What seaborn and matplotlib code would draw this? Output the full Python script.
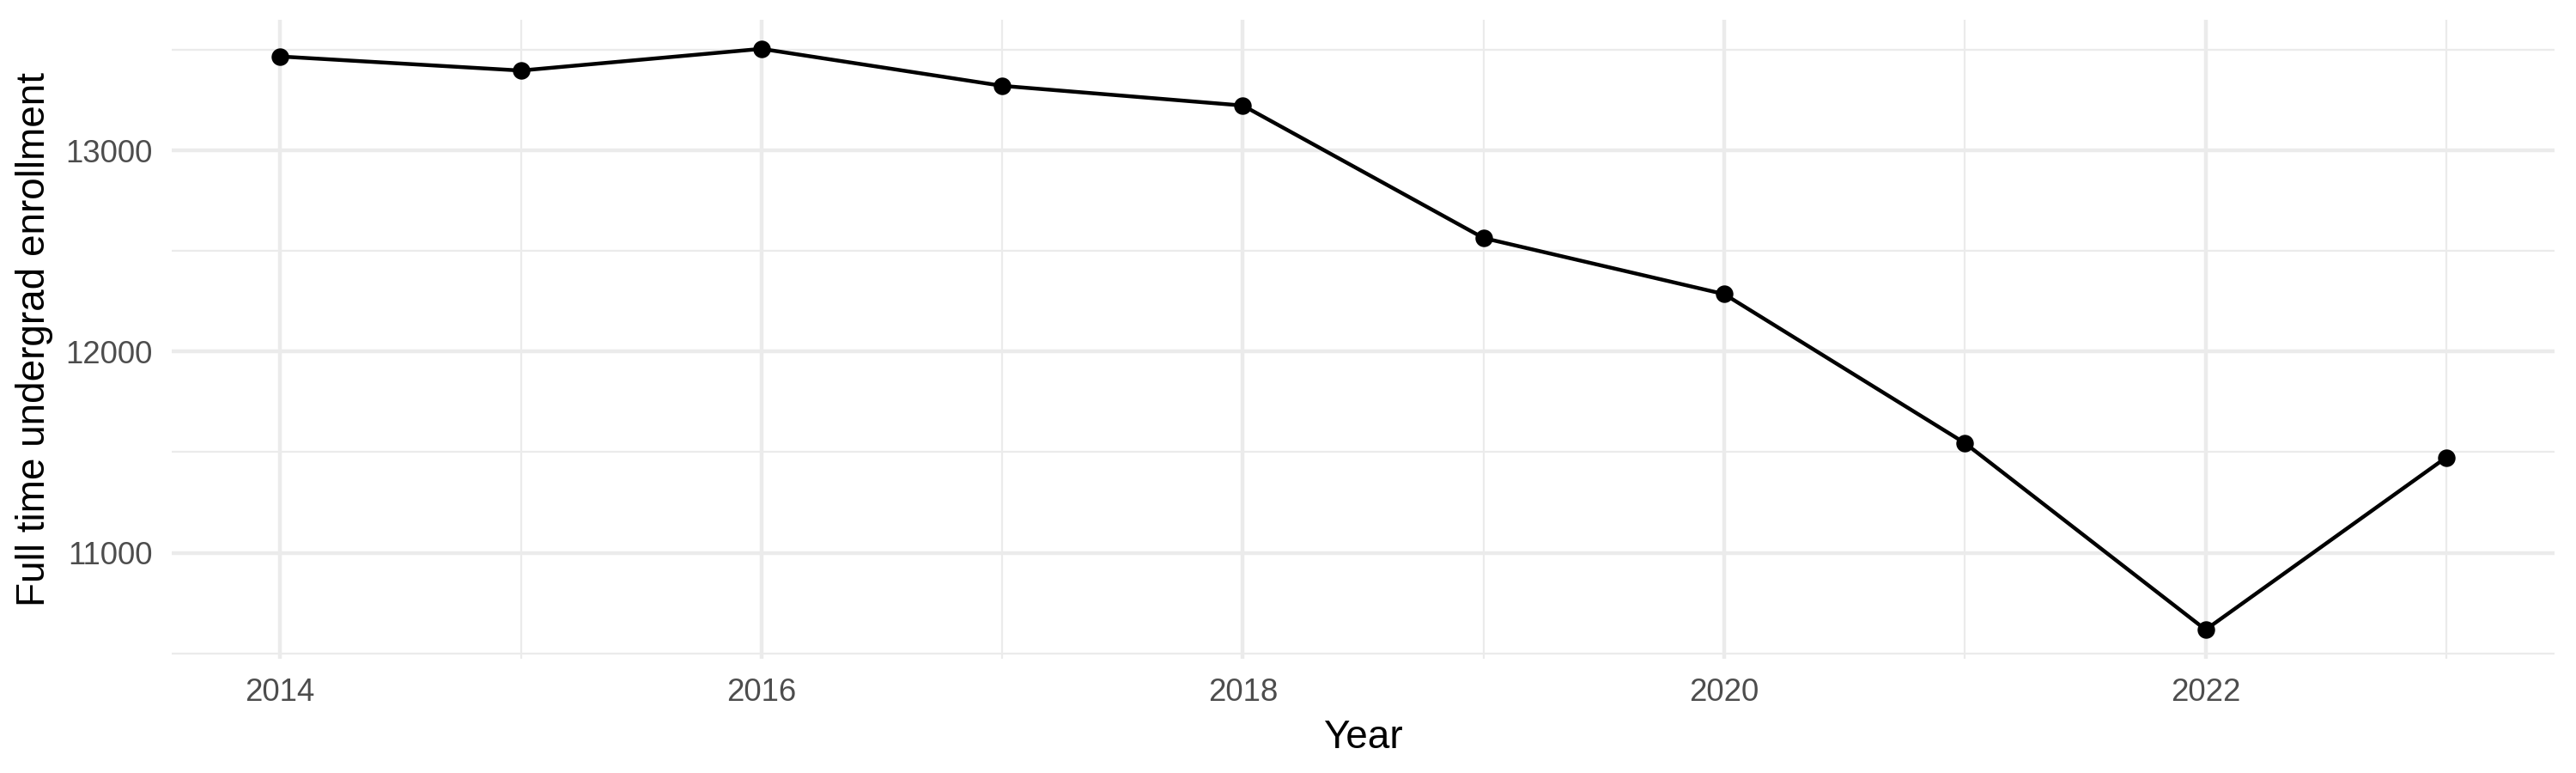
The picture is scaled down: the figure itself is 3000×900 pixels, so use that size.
import pandas as pd
import seaborn as sns
import matplotlib.pyplot as plt
from matplotlib.ticker import MultipleLocator

# Full time undergrad enrollment per year
years = [2014, 2015, 2016, 2017, 2018, 2019, 2020, 2021, 2022, 2023]
enrollment = [13468, 13398, 13506, 13322, 13224, 12565, 12286, 11545, 10617, 11474]

df = pd.DataFrame({'Year': years, 'Enrollment': enrollment})

sns.set_theme(style='white')
plt.rcParams['font.family'] = ['Liberation Sans', 'DejaVu Sans']

fig, ax = plt.subplots(figsize=(10, 3), dpi=300)
fig.subplots_adjust(left=0.0667, right=0.9917, bottom=0.1478, top=0.9744)

# grid like ggplot theme_minimal
ax.xaxis.set_major_locator(MultipleLocator(2))
ax.xaxis.set_minor_locator(MultipleLocator(1))
ax.yaxis.set_major_locator(MultipleLocator(1000))
ax.yaxis.set_minor_locator(MultipleLocator(500))
ax.grid(which='major', color='#EBEBEB', linewidth=1.07)
ax.grid(which='minor', color='#EBEBEB', linewidth=0.53)
ax.set_axisbelow(True)
for s in ax.spines.values():
    s.set_visible(False)

sns.lineplot(x='Year', y='Enrollment', data=df, color='black', linewidth=1.07, ax=ax)
sns.scatterplot(x='Year', y='Enrollment', data=df, color='black', s=24, linewidth=0, ax=ax, zorder=3)

ax.margins(x=0.05, y=0.05)
ax.tick_params(which='both', length=0, pad=5.3, labelsize=8.8, labelcolor='#4D4D4D')
ax.set_xlabel('Year', fontsize=11, color='black', labelpad=3)
ax.set_ylabel('Full time undergrad enrollment', fontsize=11, color='black', labelpad=3.5)

plt.savefig('out.png', dpi=300, facecolor='white')
